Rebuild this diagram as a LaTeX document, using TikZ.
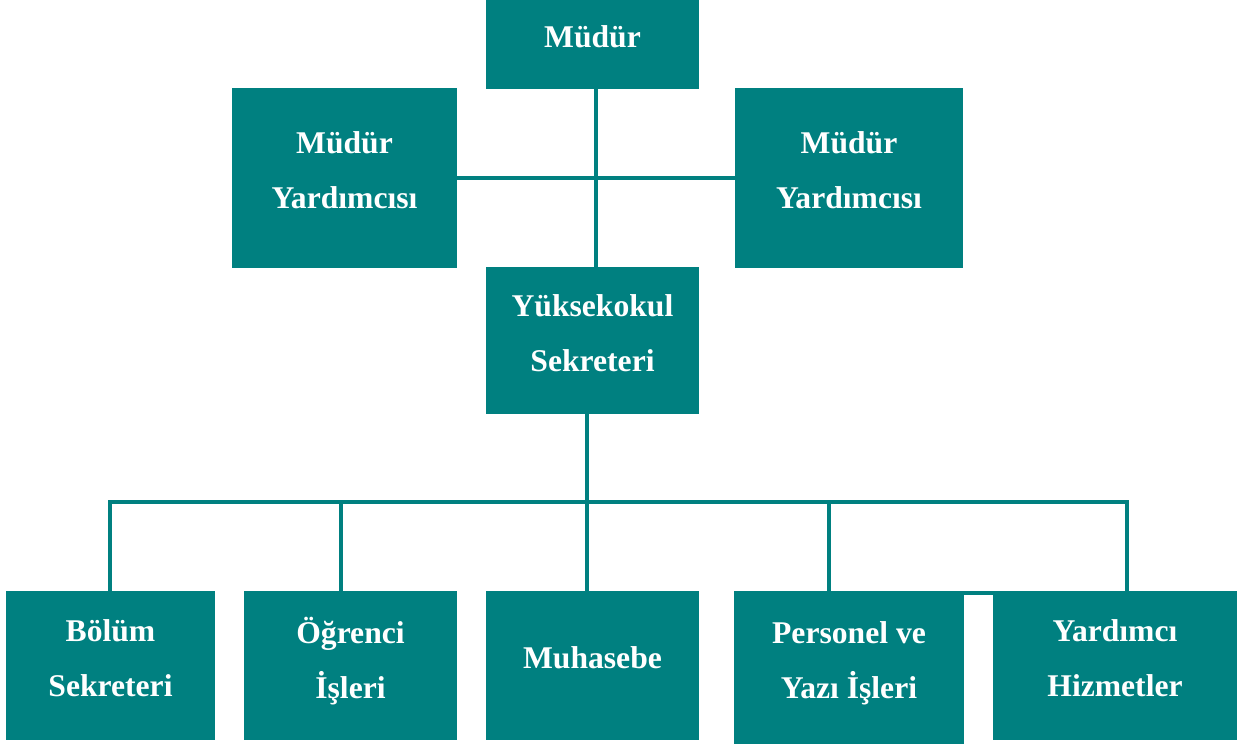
\documentclass[tikz,border=0pt]{standalone}
\usepackage{fontspec}
\setmainfont{Liberation Serif}
\usepackage{tikz}
\usetikzlibrary{calc}

\definecolor{orgteal}{RGB}{0,128,128}

\tikzset{
  orgbox/.style={rectangle, fill=orgteal, text=white, inner sep=0pt,
    align=center, text depth=9pt,
    font=\fontsize{18}{31.3}\selectfont\bfseries},
  link/.style={draw=orgteal, line width=0.08cm}
}

\begin{document}
\begin{tikzpicture} [x=0.02cm, y=-0.02cm]
\useasboundingbox (0,0) rectangle (1239,744);

% top level
\node[orgbox, minimum width=4.26cm, minimum height=1.78cm] (mudur) at (592.5,44.5) {Müdür};
\node[orgbox, minimum width=4.5cm, minimum height=3.6cm] (yrdleft) at (344.5,178) {Müdür\\Yardımcısı};
\node[orgbox, minimum width=4.56cm, minimum height=3.6cm] (yrdright) at (849,178) {Müdür\\Yardımcısı};
\node[orgbox, minimum width=4.26cm, minimum height=2.94cm] (sekreter) at (592.5,340.5) {Yüksekokul\\Sekreteri};

% bottom row
\node[orgbox, minimum width=4.18cm, minimum height=2.98cm] (bolum) at (110.5,665.5) {Bölüm\\Sekreteri};
\node[orgbox, minimum width=4.26cm, minimum height=2.98cm] (ogrenci) at (350.5,665.5) {Öğrenci\\İşleri};
\node[orgbox, minimum width=4.26cm, minimum height=2.98cm] (muhasebe) at (592.5,665.5) {Muhasebe};
\node[orgbox, minimum width=4.6cm, minimum height=3.06cm] (personel) at (849,667.5) {Personel ve\\Yazı İşleri};
\node[orgbox, minimum width=4.88cm, minimum height=2.98cm] (yardimci) at (1115,665.5) {Yardımcı\\Hizmetler};
\fill[orgteal] (964,591) rectangle (993,595);

% connectors
\coordinate (spine) at (596,0);
\draw[link] (spine |- mudur.south) -- (spine |- sekreter.north);
\draw[link] (yrdleft.east) -- (yrdright.west);

\coordinate (bus) at (587,502);
\draw[link] (bus |- sekreter.south) -- (bus);
\draw[link] (108,502) -- (1129,502);
\foreach \b/\x in {bolum/110, ogrenci/341, muhasebe/587, personel/829, yardimci/1127}
\draw[link] (\x,502) -- (\x,0 |- \b.north);

\end{tikzpicture}
\end{document}
